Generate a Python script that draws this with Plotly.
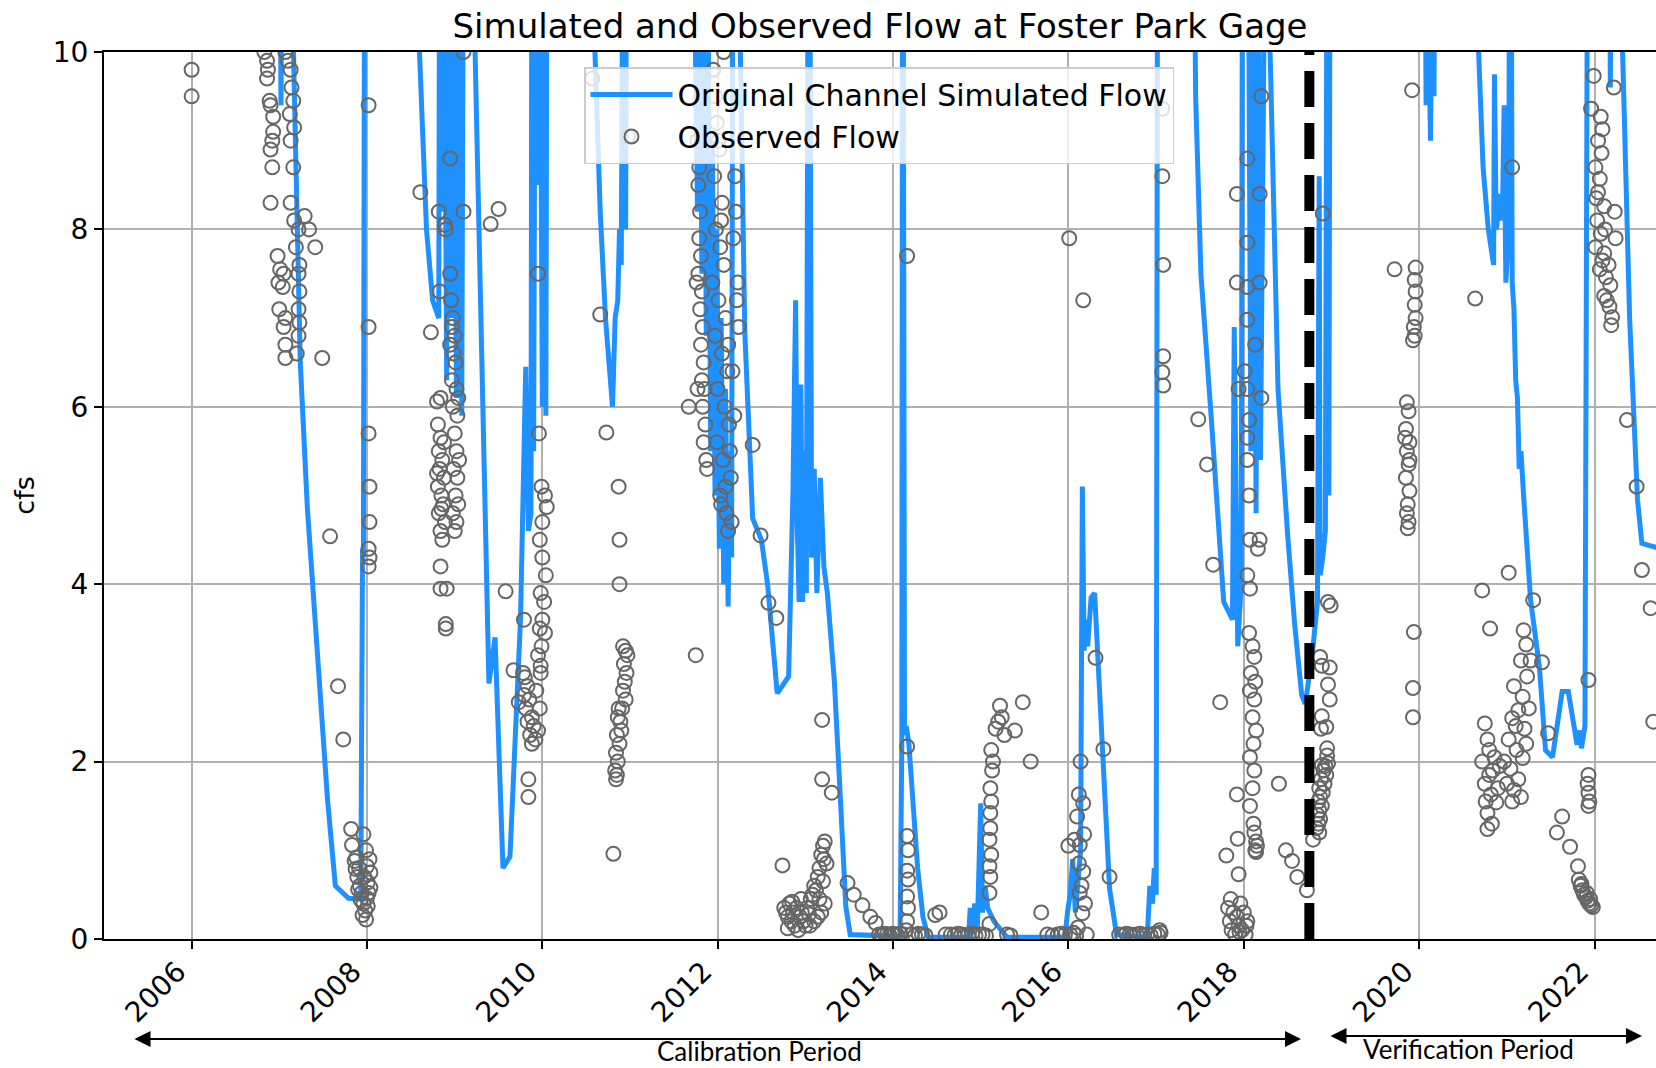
import plotly.graph_objects as go
import pandas as pd

# ---------------- data (decimal year, cfs) ----------------
# Simulated flow; values above 10 run off the top of the chart
sim_2007_2010 = [
    (2006.99, 15), (2007.02, 9.4), (2007.05, 15), (2007.14, 11), (2007.21, 8.2), (2007.24, 6.5),
    (2007.32, 4.87), (2007.43, 3.2), (2007.55, 1.58), (2007.64, 0.6), (2007.79, 0.46), (2007.93, 0.45),
    (2007.95, 4.4), (2007.96, 4.3), (2007.98, 15),
    (2008.55, 15), (2008.60, 10), (2008.68, 8.0), (2008.75, 7.2), (2008.82, 7.0), (2008.83, 12),
    (2008.86, 8.2), (2008.88, 12), (2008.91, 6.3), (2008.93, 12), (2008.96, 7.0), (2008.98, 12),
    (2009.02, 6.1), (2009.04, 12), (2009.08, 5.9), (2009.10, 12), (2009.17, 15), (2009.21, 11),
    (2009.39, 2.88), (2009.46, 3.4), (2009.55, 0.8), (2009.63, 0.93), (2009.75, 3.6), (2009.81, 6.45),
    (2009.84, 4.6), (2009.87, 4.8), (2009.88, 12), (2009.90, 5.5), (2009.92, 12), (2009.95, 8.5),
    (2009.97, 12), (2010.00, 6.0), (2010.02, 12), (2010.04, 5.9), (2010.06, 15),
]
sim_2010_2014 = [
    (2010.55, 15), (2010.60, 10), (2010.66, 8.2), (2010.72, 7.0), (2010.80, 6.0), (2010.83, 7.0),
    (2010.86, 7.2), (2010.88, 8.0), (2010.90, 7.6), (2010.92, 12), (2010.95, 8.0), (2010.97, 15),
    (2011.70, 15), (2011.72, 12), (2011.77, 8.2), (2011.79, 12), (2011.82, 7.5), (2011.84, 12),
    (2011.87, 6.8), (2011.89, 11), (2011.92, 5.5), (2011.94, 9), (2011.97, 5.0), (2011.99, 8),
    (2012.02, 4.4), (2012.04, 7), (2012.07, 4.0), (2012.09, 6.2), (2012.12, 3.75), (2012.14, 5.5),
    (2012.16, 4.3), (2012.18, 15), (2012.24, 15), (2012.26, 10), (2012.31, 6.85), (2012.40, 4.74),
    (2012.50, 4.5), (2012.57, 4.0), (2012.68, 2.77), (2012.81, 2.96), (2012.86, 5.07), (2012.89, 7.2),
    (2012.91, 4.6), (2012.93, 3.8), (2012.95, 6.25), (2012.97, 3.8), (2012.99, 5.5), (2013.01, 3.9),
    (2013.04, 15), (2013.07, 4.3), (2013.10, 5.3), (2013.13, 3.9), (2013.17, 5.2), (2013.21, 4.2),
    (2013.25, 3.9), (2013.33, 2.9), (2013.40, 1.55), (2013.46, 0.37), (2013.51, 0.05),
]
sim_2014_2018 = [
    (2014.08, 0.03), (2014.10, 2.3), (2014.11, 15), (2014.13, 2.3), (2014.15, 2.4), (2014.18, 2.2),
    (2014.22, 1.6), (2014.28, 0.8), (2014.34, 0.25), (2014.40, 0.02),
    (2014.86, 0.02), (2014.88, 0.35), (2014.90, 0.05), (2014.93, 0.4), (2014.96, 0.1), (2015.00, 1.53),
    (2015.02, 0.3), (2015.05, 0.6), (2015.08, 0.35), (2015.15, 0.2), (2015.30, 0.02),
    (2015.96, 0.02), (2015.99, 0.3), (2016.02, 0.5), (2016.05, 0.9), (2016.08, 0.3), (2016.14, 1.0),
    (2016.16, 5.1), (2016.18, 3.25), (2016.20, 3.6), (2016.22, 3.3), (2016.26, 3.85), (2016.30, 3.9),
    (2016.38, 2.2), (2016.47, 0.57), (2016.55, 0.05),
    (2016.90, 0.02), (2016.93, 0.6), (2016.96, 0.4), (2016.98, 0.8), (2017.00, 0.5), (2017.02, 15),
    (2017.40, 15), (2017.45, 9.5), (2017.51, 7.5), (2017.63, 5.85), (2017.77, 3.8), (2017.87, 3.6),
    (2017.89, 6.9), (2017.93, 3.3), (2017.97, 4.0), (2017.99, 15), (2018.05, 12), (2018.08, 5.5),
    (2018.10, 12), (2018.14, 4.8), (2018.16, 12), (2018.19, 5.4), (2018.21, 15), (2018.27, 15),
    (2018.30, 10), (2018.39, 6.2), (2018.50, 4.55), (2018.58, 3.55), (2018.66, 2.75), (2018.70, 2.65),
    (2018.73, 2.85), (2018.79, 3.3), (2018.84, 3.8), (2018.86, 8.6), (2018.87, 4.1), (2018.90, 4.3),
    (2018.93, 4.6), (2018.95, 12), (2018.97, 5.0), (2018.99, 15),
]
sim_2020_2023 = [
    (2020.05, 15), (2020.08, 9.4), (2020.10, 11), (2020.13, 9.0), (2020.15, 11), (2020.17, 9.5),
    (2020.20, 15),
    (2020.62, 15), (2020.66, 10.5), (2020.73, 8.7), (2020.79, 8.0), (2020.85, 7.6), (2020.86, 9.75),
    (2020.88, 8.0), (2020.93, 8.4), (2020.95, 8.1), (2020.97, 9.4), (2020.99, 7.4), (2021.02, 8.0),
    (2021.04, 15), (2021.06, 7.4), (2021.08, 7.1), (2021.10, 6.3), (2021.12, 6.1), (2021.14, 5.3),
    (2021.16, 5.5), (2021.19, 5.0), (2021.27, 3.82), (2021.37, 3.07), (2021.44, 2.13), (2021.52, 2.05),
    (2021.63, 2.79), (2021.70, 2.79), (2021.80, 2.19), (2021.83, 2.35), (2021.85, 2.15), (2021.89, 2.4),
    (2021.93, 15), (2022.15, 15), (2022.18, 9.6), (2022.21, 15), (2022.30, 15), (2022.32, 10),
    (2022.40, 7.0), (2022.49, 4.95), (2022.54, 4.46), (2022.75, 4.4),
]

# Observed flow
obs_2006_2008 = [
    (2006.0, 9.8), (2006.0, 9.5),
    (2006.83, 10.0), (2006.86, 9.9), (2006.87, 9.8), (2006.86, 9.7), (2006.89, 9.45), (2006.90, 9.4),
    (2006.93, 9.27), (2006.93, 9.1), (2006.92, 9.0), (2006.90, 8.9), (2006.92, 8.7), (2006.90, 8.3),
    (2006.98, 7.7), (2007.01, 7.55), (2006.99, 7.4), (2007.05, 7.5), (2007.04, 7.35), (2007.0, 7.1),
    (2007.07, 7.0), (2007.05, 6.9), (2007.07, 6.7), (2007.07, 6.55),
    (2007.07, 10.0), (2007.10, 9.9), (2007.13, 9.8), (2007.14, 9.6), (2007.16, 9.45), (2007.12, 9.3),
    (2007.17, 9.15), (2007.13, 9.0), (2007.16, 8.7), (2007.13, 8.3), (2007.17, 8.1), (2007.22, 8.0),
    (2007.19, 7.8), (2007.23, 7.6), (2007.22, 7.5), (2007.23, 7.3), (2007.22, 7.1), (2007.23, 6.95),
    (2007.22, 6.8), (2007.20, 6.6), (2007.29, 8.15), (2007.34, 8.0), (2007.41, 7.8), (2007.49, 6.55),
    (2007.58, 4.54), (2007.67, 2.85), (2007.73, 2.25), (2007.82, 1.24),
    (2007.83, 1.06), (2007.86, 0.88), (2007.87, 0.79), (2007.89, 0.7), (2007.92, 0.6), (2007.94, 0.52),
    (2007.96, 0.4), (2007.98, 0.32), (2008.0, 0.46), (2008.01, 0.64), (2007.99, 1.0), (2007.96, 1.18),
    (2008.02, 0.52), (2008.04, 0.58), (2007.88, 0.92), (2007.90, 0.56), (2007.93, 0.44), (2007.95, 0.27),
    (2007.99, 0.22), (2008.01, 0.37), (2008.04, 0.75), (2008.0, 0.82), (2007.97, 0.7), (2007.91, 0.8),
    (2008.03, 0.9),
    (2008.02, 9.4), (2008.02, 6.9), (2008.02, 5.7), (2008.03, 5.1), (2008.03, 4.7), (2008.02, 4.4),
    (2008.03, 4.3), (2008.02, 4.2),
]
obs_2008_2011 = [
    (2008.61, 8.42), (2008.73, 6.84), (2008.80, 6.06), (2008.82, 8.2), (2008.89, 8.05), (2008.90, 8.0),
    (2008.95, 8.8), (2009.10, 8.2), (2008.83, 7.3), (2008.95, 7.5), (2008.84, 6.1), (2008.84, 4.2),
    (2008.84, 3.95), (2008.90, 3.55), (2008.90, 3.5), (2008.91, 3.95), (2009.10, 10.0),
    (2008.81, 5.8), (2008.84, 5.65), (2008.82, 5.5), (2008.86, 5.4), (2008.83, 5.3), (2008.88, 5.2),
    (2008.81, 5.1), (2008.85, 5.0), (2008.87, 4.9), (2008.82, 4.8), (2008.89, 4.7), (2008.84, 4.6),
    (2008.86, 4.5), (2008.88, 5.6), (2008.80, 5.25), (2008.85, 4.85),
    (2008.96, 7.2), (2008.98, 7.0), (2008.97, 6.9), (2009.00, 6.8), (2008.99, 6.6), (2009.01, 6.5),
    (2008.97, 6.3), (2009.02, 6.2), (2008.98, 6.0), (2009.03, 5.9), (2009.00, 5.7), (2009.02, 5.5),
    (2008.99, 5.3), (2009.03, 5.2), (2009.01, 5.0), (2009.04, 4.9), (2008.98, 4.8), (2009.02, 4.7),
    (2009.00, 4.6), (2009.05, 5.4), (2009.04, 6.1), (2008.95, 6.7),
    (2009.41, 8.06), (2009.50, 8.23), (2009.58, 3.92), (2009.67, 3.03), (2009.73, 2.67),
    (2009.78, 3.0), (2009.80, 2.95), (2009.83, 2.85), (2009.79, 2.75), (2009.85, 2.7), (2009.81, 2.6),
    (2009.88, 2.5), (2009.83, 2.45), (2009.90, 2.4), (2009.86, 2.3), (2009.92, 2.25), (2009.88, 2.2),
    (2009.95, 2.35), (2009.97, 2.6), (2009.93, 2.8), (2009.98, 3.0),
    (2009.84, 1.8), (2009.84, 1.6), (2009.79, 3.6),
    (2009.95, 7.5), (2009.96, 5.7), (2009.99, 5.1), (2010.03, 5.0), (2010.05, 4.87), (2010.0, 4.7),
    (2009.97, 4.5), (2010.0, 4.3), (2010.04, 4.1), (2009.98, 3.9), (2010.02, 3.8), (2010.0, 3.6),
    (2009.97, 3.5), (2010.03, 3.45), (2009.99, 3.3), (2009.95, 3.2), (2009.98, 3.08),
    (2010.57, 9.7), (2010.66, 7.04), (2010.73, 5.71), (2010.87, 5.1), (2010.88, 4.5), (2010.88, 4.0),
    (2010.81, 0.96), (2010.98, 9.05),
    (2010.92, 3.3), (2010.95, 3.25), (2010.97, 3.2), (2010.93, 3.1), (2010.96, 3.0), (2010.94, 2.9),
    (2010.92, 2.8), (2010.95, 2.7), (2010.91, 2.6), (2010.87, 2.6), (2010.86, 2.5), (2010.89, 2.45),
    (2010.85, 2.3), (2010.88, 2.2), (2010.84, 2.1), (2010.86, 2.0), (2010.83, 1.9), (2010.85, 1.85),
    (2010.84, 1.8), (2010.90, 2.35),
]
obs_2011_2014 = [
    (2011.67, 6.0), (2011.75, 3.2),
    (2011.77, 9.0), (2011.79, 8.7), (2011.78, 8.5), (2011.80, 8.2), (2011.79, 7.9), (2011.81, 7.7),
    (2011.78, 7.5), (2011.82, 7.3), (2011.80, 7.1), (2011.83, 6.9), (2011.81, 6.7), (2011.84, 6.5),
    (2011.82, 6.3), (2011.85, 6.2), (2011.83, 6.0), (2011.86, 5.8), (2011.84, 5.6), (2011.87, 5.4),
    (2011.88, 5.3), (2011.76, 7.4), (2011.77, 6.2),
    (2011.95, 9.8), (2011.97, 9.5), (2011.99, 9.2), (2012.02, 8.9), (2011.96, 8.6), (2012.05, 8.3),
    (2011.98, 8.0), (2012.03, 7.8), (2012.07, 7.6), (2011.94, 7.4), (2012.01, 7.2), (2012.09, 7.0),
    (2011.97, 6.8), (2012.05, 6.6), (2012.11, 6.4), (2012.0, 6.2), (2012.08, 6.0), (2012.13, 5.8),
    (2011.99, 5.6), (2012.06, 5.4), (2012.15, 5.2), (2012.03, 5.0), (2012.10, 4.8), (2012.16, 4.7),
    (2012.12, 4.6), (2012.07, 10.0), (2012.20, 8.6), (2012.21, 8.2), (2012.23, 7.4), (2012.24, 6.9),
    (2012.18, 7.9), (2012.22, 7.2), (2012.17, 6.4), (2012.19, 5.9), (2012.14, 5.5), (2012.04, 4.9),
    (2012.09, 5.1), (2012.12, 6.7), (2012.01, 9.0), (2012.04, 8.1),
    (2012.40, 5.57), (2012.49, 4.55), (2012.58, 3.79), (2012.67, 3.62), (2012.74, 0.83),
    (2012.76, 0.35), (2012.78, 0.3), (2012.80, 0.25), (2012.82, 0.4), (2012.84, 0.2), (2012.86, 0.3),
    (2012.88, 0.15), (2012.90, 0.35), (2012.92, 0.1), (2012.94, 0.25), (2012.96, 0.3), (2012.98, 0.2),
    (2013.0, 0.15), (2013.02, 0.35), (2013.04, 0.28), (2013.06, 0.45), (2013.08, 0.5), (2013.10, 0.6),
    (2013.12, 0.55), (2013.14, 0.7), (2013.16, 0.8), (2013.18, 0.95), (2013.20, 1.05), (2013.22, 1.1),
    (2013.20, 0.65), (2013.22, 0.4), (2013.18, 0.3), (2013.14, 0.25), (2013.10, 0.2), (2012.80, 0.12),
    (2012.85, 0.42), (2012.95, 0.45), (2013.05, 0.15), (2013.16, 0.45), (2013.24, 0.85), (2013.21, 0.9),
    (2013.19, 2.47), (2013.19, 1.8), (2013.30, 1.65),
    (2013.48, 0.63), (2013.55, 0.5), (2013.65, 0.38), (2013.74, 0.25), (2013.80, 0.18),
    (2013.84, 0.05), (2013.87, 0.04), (2013.90, 0.06), (2013.93, 0.05), (2013.96, 0.04), (2013.99, 0.06),
    (2014.02, 0.05), (2014.05, 0.04), (2014.08, 0.06),
]
obs_2014_2017 = [
    (2014.16, 7.7), (2014.16, 2.17), (2014.16, 1.16), (2014.17, 1.0), (2014.16, 0.77), (2014.17, 0.67),
    (2014.16, 0.48), (2014.17, 0.35), (2014.16, 0.2), (2014.15, 0.1),
    (2014.21, 0.05), (2014.25, 0.04), (2014.29, 0.06), (2014.33, 0.05), (2014.37, 0.04),
    (2014.48, 0.27), (2014.53, 0.3), (2014.60, 0.05),
    (2014.66, 0.05), (2014.70, 0.04), (2014.74, 0.06), (2014.78, 0.05), (2014.82, 0.04), (2014.86, 0.05),
    (2014.90, 0.06), (2014.94, 0.04), (2014.98, 0.05), (2015.02, 0.05), (2015.06, 0.04),
    (2015.22, 2.63), (2015.24, 2.5), (2015.17, 2.37), (2015.27, 2.3), (2015.12, 2.13), (2015.14, 2.0),
    (2015.11, 1.7), (2015.11, 1.42), (2015.10, 1.12), (2015.10, 0.82), (2015.10, 0.52), (2015.10, 0.17),
    (2015.13, 1.9), (2015.12, 1.55), (2015.11, 1.25), (2015.12, 0.95), (2015.11, 0.7), (2015.20, 2.45),
    (2015.39, 2.35), (2015.48, 2.67), (2015.57, 2.0), (2015.69, 0.3),
    (2015.30, 0.05), (2015.34, 0.04), (2015.76, 0.05), (2015.82, 0.04), (2015.88, 0.05), (2015.92, 0.06),
    (2015.96, 0.05),
    (2016.01, 7.9), (2016.0, 1.05), (2016.17, 7.2),
    (2016.14, 2.0), (2016.12, 1.63), (2016.17, 1.53), (2016.10, 1.38), (2016.18, 1.18), (2016.13, 1.06),
    (2016.07, 1.12), (2016.17, 0.76), (2016.13, 0.52), (2016.16, 0.29), (2016.11, 0.13), (2016.06, 0.07),
    (2016.15, 0.6), (2016.19, 0.4), (2016.12, 0.85),
    (2016.31, 3.17), (2016.40, 2.14), (2016.47, 0.7),
    (2016.02, 0.05), (2016.09, 0.04), (2016.21, 0.05), (2016.58, 0.05), (2016.62, 0.04), (2016.66, 0.06),
    (2016.70, 0.05), (2016.74, 0.04), (2016.78, 0.05), (2016.82, 0.06), (2016.86, 0.04), (2016.90, 0.05),
    (2016.94, 0.04), (2016.98, 0.06), (2017.02, 0.05), (2017.05, 0.07), (2017.04, 0.1),
    (2017.07, 9.36), (2017.07, 8.6), (2017.08, 7.6), (2017.08, 6.57), (2017.07, 6.39), (2017.08, 6.24),
]
obs_2017_2019 = [
    (2017.48, 5.86), (2017.58, 5.35), (2017.65, 4.22), (2017.73, 2.67),
    (2017.80, 0.94), (2017.82, 0.35), (2017.84, 0.2), (2017.86, 0.1), (2017.88, 0.3), (2017.90, 0.05),
    (2017.92, 0.25), (2017.94, 0.15), (2017.96, 0.4), (2017.98, 0.1), (2018.0, 0.3), (2018.02, 0.05),
    (2018.04, 0.2), (2017.85, 0.45), (2017.95, 0.08), (2018.03, 0.15),
    (2017.92, 1.63), (2017.93, 1.13), (2017.94, 0.73),
    (2018.04, 8.8), (2017.92, 8.4), (2018.04, 7.85), (2017.92, 7.4), (2018.04, 7.35), (2018.04, 6.98),
    (2018.01, 6.4), (2018.04, 6.2), (2017.94, 6.2), (2018.06, 5.85), (2018.04, 5.65), (2018.04, 5.4),
    (2018.06, 5.0), (2018.07, 4.5), (2018.04, 4.1), (2018.07, 3.95),
    (2018.06, 3.45), (2018.10, 3.3), (2018.12, 3.18), (2018.08, 3.0), (2018.13, 2.9), (2018.07, 2.8),
    (2018.12, 2.7), (2018.10, 2.5), (2018.14, 2.35), (2018.11, 2.2), (2018.07, 2.05), (2018.12, 1.9),
    (2018.10, 1.7), (2018.07, 1.5), (2018.11, 1.3), (2018.14, 1.1), (2018.13, 1.0), (2018.12, 1.2),
    (2018.15, 1.05), (2018.14, 0.98),
    (2018.20, 9.5), (2018.18, 8.4), (2018.18, 7.4), (2018.13, 6.7), (2018.20, 6.1), (2018.18, 4.5),
    (2018.16, 4.4),
    (2018.40, 1.75), (2018.48, 1.0), (2018.55, 0.88), (2018.61, 0.7), (2018.72, 0.55),
    (2018.90, 8.18), (2018.96, 3.8), (2018.99, 3.76), (2018.87, 3.18), (2018.89, 3.08), (2018.98, 3.06),
    (2018.96, 2.87), (2018.98, 2.7), (2018.89, 2.51), (2018.88, 2.37), (2018.94, 2.39), (2018.95, 2.15),
    (2018.95, 2.07), (2018.89, 1.96),
    (2018.91, 1.9), (2018.94, 1.85), (2018.88, 1.8), (2018.92, 1.75), (2018.86, 1.7), (2018.90, 1.65),
    (2018.87, 1.6), (2018.85, 1.55), (2018.89, 1.5), (2018.86, 1.45), (2018.84, 1.4), (2018.87, 1.35),
    (2018.85, 1.3), (2018.83, 1.25), (2018.86, 1.2), (2018.93, 1.95), (2018.96, 1.98), (2018.79, 1.12),
]
obs_2019_2023 = [
    (2019.72, 7.55), (2019.92, 9.57), (2019.96, 7.57), (2019.95, 7.43), (2019.96, 7.3), (2019.95, 7.15),
    (2019.96, 7.0), (2019.94, 6.9), (2019.95, 6.8), (2019.93, 6.75),
    (2019.86, 6.05), (2019.88, 5.95), (2019.85, 5.75), (2019.89, 5.6), (2019.86, 5.5), (2019.88, 5.35),
    (2019.85, 5.2), (2019.89, 5.05), (2019.87, 4.9), (2019.86, 4.8), (2019.88, 4.7), (2019.87, 4.63),
    (2019.89, 5.4), (2019.84, 5.65),
    (2019.94, 3.46), (2019.93, 2.83), (2019.93, 2.5),
    (2020.64, 7.22), (2021.06, 8.7), (2021.02, 4.13), (2020.72, 3.93), (2020.81, 3.5), (2021.30, 3.82),
    (2021.40, 3.12), (2021.47, 2.32),
    (2020.75, 2.43), (2020.78, 2.25), (2020.80, 2.13), (2020.72, 2.0), (2020.84, 1.9), (2020.75, 1.75),
    (2020.82, 1.63), (2020.88, 1.54), (2020.78, 1.42), (2020.83, 1.3), (2020.78, 1.24), (2020.80, 1.85),
    (2020.86, 2.05), (2020.76, 1.55), (2020.90, 1.7), (2020.92, 1.95),
    (2021.19, 3.48), (2021.22, 3.32), (2021.16, 3.14), (2021.23, 2.96), (2021.08, 2.85), (2021.18, 2.73),
    (2021.13, 2.58), (2021.06, 2.49), (2021.20, 2.37), (2021.02, 2.25), (2021.11, 2.13), (2021.18, 2.04),
    (2021.04, 1.92), (2021.13, 1.8), (2021.08, 1.68), (2021.16, 1.6), (2021.25, 2.6), (2021.22, 2.2),
    (2021.0, 1.75), (2020.97, 2.0), (2021.10, 2.4), (2021.06, 1.55), (2021.27, 3.14),
    (2021.57, 1.2), (2021.63, 1.38), (2021.72, 1.04), (2021.81, 0.82),
    (2021.82, 0.67), (2021.84, 0.6), (2021.86, 0.55), (2021.88, 0.5), (2021.90, 0.47), (2021.92, 0.43),
    (2021.94, 0.4), (2021.96, 0.38), (2021.98, 0.36), (2021.85, 0.62), (2021.91, 0.52), (2021.95, 0.45),
    (2021.93, 1.85), (2021.92, 1.75), (2021.93, 1.65), (2021.94, 1.55), (2021.93, 1.5), (2021.93, 2.92),
    (2021.99, 9.73), (2022.22, 9.6), (2021.96, 9.36), (2022.07, 9.27), (2022.09, 9.13), (2022.04, 9.0),
    (2022.08, 8.86), (2022.01, 8.7), (2022.06, 8.57), (2022.04, 8.42), (2022.11, 8.26), (2022.23, 8.2),
    (2022.03, 8.1), (2022.07, 7.95), (2022.24, 7.9), (2022.01, 7.8), (2022.11, 7.73), (2022.16, 7.6),
    (2022.06, 7.55), (2022.13, 7.46), (2022.18, 7.37), (2022.11, 7.25), (2022.17, 7.13), (2022.20, 7.01),
    (2022.19, 6.92), (2022.14, 7.2), (2022.09, 7.65), (2022.02, 8.35), (2022.12, 8.0),
    (2022.37, 5.85), (2022.48, 5.1), (2022.54, 4.16), (2022.64, 3.73), (2022.67, 2.45),
]

tick_years = [2006, 2008, 2010, 2012, 2014, 2016, 2018, 2020, 2022]
split_date = "2018-10-01"


def to_date(y):
    yr = int(y)
    return pd.Timestamp(year=yr, month=1, day=1) + pd.Timedelta(days=(y - yr) * 365.25)


sim = sim_2007_2010 + sim_2010_2014 + sim_2014_2018 + sim_2020_2023
obs = obs_2006_2008 + obs_2008_2011 + obs_2011_2014 + obs_2014_2017 + obs_2017_2019 + obs_2019_2023

sim_x = [to_date(p[0]) for p in sim]
sim_y = [p[1] for p in sim]
obs_x = [to_date(p[0]) for p in obs]
obs_y = [p[1] for p in obs]

FONT = "DejaVu Sans"
W, H = 1656, 1068
ML, MR, MT, MB = 104, 0, 52, 129

fig = go.Figure()
fig.add_trace(go.Scatter(
    x=sim_x, y=sim_y, mode="lines", name="Original Channel Simulated Flow",
    line=dict(color="#1E90FF", width=5),
))
fig.add_trace(go.Scatter(
    x=obs_x, y=obs_y, mode="markers", name="Observed Flow",
    marker=dict(symbol="circle-open", size=14, color="#666666", line=dict(width=2)),
))

fig.add_shape(type="line", xref="x", yref="y", x0=split_date, x1=split_date, y0=0, y1=10,
              line=dict(color="black", width=10, dash="36px,16px"), layer="above")

pw = W - ML - MR
ph = H - MT - MB


def px_x(p):
    return (p - ML) / pw


def px_y(p):
    return (H - MB - p) / ph


# period arrows
fig.add_annotation(xref="paper", yref="paper", x=px_x(1301), y=px_y(1039), ax=133 - 1301, ay=0,
                   axref="pixel", ayref="pixel", text="", showarrow=True, arrowside="end+start",
                   arrowhead=2, startarrowhead=2, arrowsize=1.6, startarrowsize=1.6,
                   arrowwidth=2, arrowcolor="black")
fig.add_annotation(xref="paper", yref="paper", x=px_x(1642), y=px_y(1036), ax=1329 - 1642, ay=0,
                   axref="pixel", ayref="pixel", text="", showarrow=True, arrowside="end+start",
                   arrowhead=2, startarrowhead=2, arrowsize=1.6, startarrowsize=1.6,
                   arrowwidth=2, arrowcolor="black")
fig.add_annotation(xref="paper", yref="paper", x=px_x(759), y=px_y(1068), text="Calibration Period",
                   showarrow=False, font=dict(family="Lato", size=26, color="black"),
                   xanchor="center", yanchor="bottom", borderpad=0)
fig.add_annotation(xref="paper", yref="paper", x=px_x(1468), y=px_y(1066), text="Verification Period",
                   showarrow=False, font=dict(family="Lato", size=26, color="black"),
                   xanchor="center", yanchor="bottom", borderpad=0)

fig.update_layout(
    width=W, height=H,
    margin=dict(l=ML, r=MR, t=MT, b=MB, pad=0),
    paper_bgcolor="white", plot_bgcolor="white",
    font=dict(family=FONT, color="black"),
    title=dict(text="Simulated and Observed Flow at Foster Park Gage", x=0.5, xref="paper",
               y=1 - 26 / H, yref="container", xanchor="center", yanchor="middle",
               font=dict(family=FONT, size=34, color="black")),
    showlegend=True,
    legend=dict(x=px_x(584), y=px_y(67), xanchor="left", yanchor="top",
                bgcolor="rgba(255,255,255,0.8)", bordercolor="#cccccc", borderwidth=1.5,
                font=dict(family=FONT, size=30, color="black"), itemwidth=82,
                tracegroupgap=0),
    xaxis=dict(
        type="date", range=["2005-01-01", "2022-09-14"],
        tickvals=[f"{y}-01-01" for y in tick_years], ticktext=[str(y) for y in tick_years],
        tickangle=-45, ticks="outside", ticklen=8, tickwidth=2, tickcolor="black",
        tickfont=dict(family=FONT, size=28, color="black"),
        ticklabelshift=-14, ticklabelstandoff=-5,
        showgrid=True, gridcolor="#b0b0b0", gridwidth=1.5,
        showline=True, linecolor="black", linewidth=2, mirror=True,
        zeroline=False, automargin=False,
    ),
    yaxis=dict(
        range=[0, 10], tickvals=[0, 2, 4, 6, 8, 10], ticktext=["0", "2", "4", "6", "8", "10"],
        ticks="outside", ticklen=8, tickwidth=2, tickcolor="black",
        tickfont=dict(family=FONT, size=28, color="black"),
        showgrid=True, gridcolor="#b0b0b0", gridwidth=1.5,
        showline=True, linecolor="black", linewidth=2, mirror=False,
        zeroline=False, automargin=False,
        title=dict(text="cfs", font=dict(family=FONT, size=27, color="black"), standoff=10),
    ),
)

fig.write_html("out.html")
